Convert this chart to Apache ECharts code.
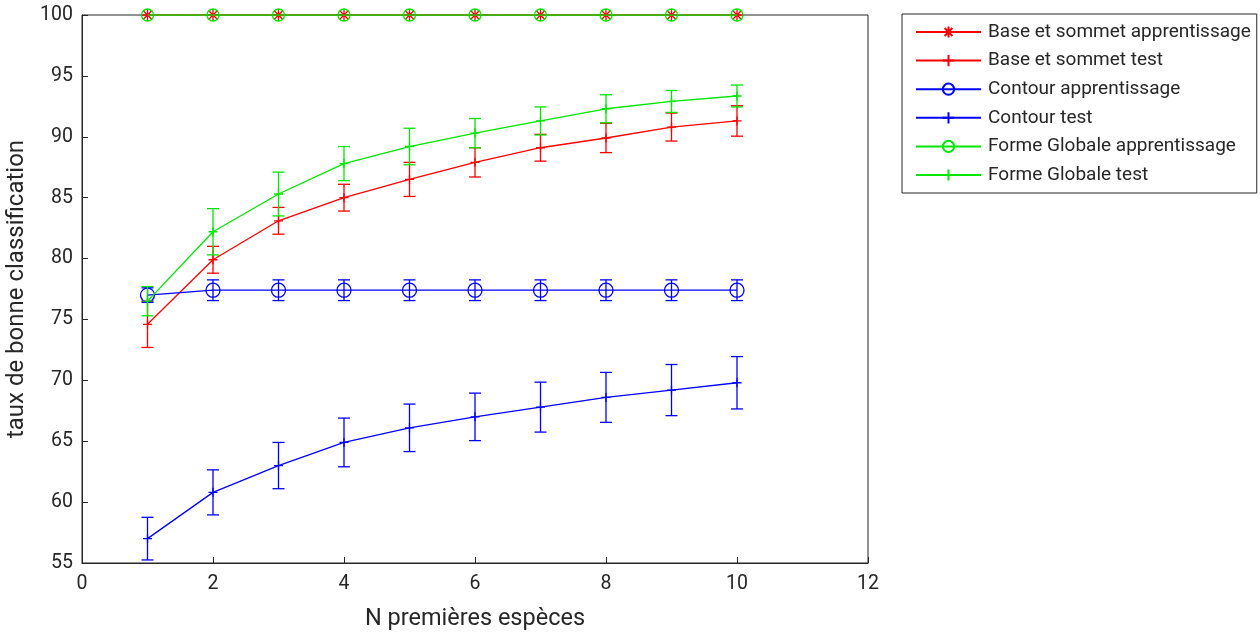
<!DOCTYPE html>
<html>
<head>
<meta charset="utf-8">
<script src="https://cdn.jsdelivr.net/npm/echarts@6/dist/echarts.min.js"></script>
<style>html,body{margin:0;padding:0;background:#fff;}#c{width:1260px;height:637px;}</style>
</head>
<body>
<div id="c"></div>
<script>
// ---- data ----
const xValues = [1, 2, 3, 4, 5, 6, 7, 8, 9, 10];
const xTicks = [0, 2, 4, 6, 8, 10, 12];
const yTicks = [55, 60, 65, 70, 75, 80, 85, 90, 95, 100];

const seriesNames = [
  'Base et sommet apprentissage',
  'Base et sommet test',
  'Contour apprentissage',
  'Contour test',
  'Forme Globale apprentissage',
  'Forme Globale test'
];

const baseApp = [100, 100, 100, 100, 100, 100, 100, 100, 100, 100];
const baseAppErr = [0, 0, 0, 0, 0, 0, 0, 0, 0, 0];
const baseTest = [74.6, 79.9, 83.1, 85.0, 86.5, 87.9, 89.1, 89.9, 90.8, 91.3];
const baseTestErr = [1.9, 1.1, 1.1, 1.1, 1.4, 1.2, 1.1, 1.2, 1.15, 1.25];
const contApp = [77.0, 77.4, 77.4, 77.4, 77.4, 77.4, 77.4, 77.4, 77.4, 77.4];
const contAppErr = [0.6, 0.85, 0.85, 0.85, 0.85, 0.85, 0.85, 0.85, 0.85, 0.85];
const contTest = [57.0, 60.8, 63.0, 64.9, 66.1, 67.0, 67.8, 68.6, 69.2, 69.8];
const contTestErr = [1.75, 1.85, 1.9, 2.0, 1.95, 1.95, 2.05, 2.05, 2.1, 2.15];
const formApp = [100, 100, 100, 100, 100, 100, 100, 100, 100, 100];
const formAppErr = [0, 0, 0, 0, 0, 0, 0, 0, 0, 0];
const formTest = [76.5, 82.2, 85.3, 87.8, 89.2, 90.3, 91.3, 92.3, 92.9, 93.35];
const formTestErr = [1.2, 1.9, 1.8, 1.4, 1.5, 1.2, 1.15, 1.15, 0.9, 0.9];

// ---- styling ----
const RED = '#ff0000', BLUE = '#0000ff', GREEN = '#00e600';
const TXT = '#262626';
const LW = 1.3;
const PLUS = 'path://M0,5L10,5M5,0L5,10';
const STAR = 'path://M0,5L10,5M5,0L5,10M1.5,1.5L8.5,8.5M1.5,8.5L8.5,1.5';

function pairs(vals) { return xValues.map((x, i) => [x, vals[i]]); }
function errData(vals, errs) { return xValues.map((x, i) => [x, vals[i] - errs[i], vals[i] + errs[i]]); }

function errSeries(vals, errs, color, z) {
  return {
    type: 'custom',
    z: z,
    silent: true,
    data: errData(vals, errs),
    encode: { x: 0, y: [1, 2] },
    renderItem: function (params, api) {
      const x = api.value(0), lo = api.value(1), hi = api.value(2);
      if (hi - lo <= 0) return null;
      const pH = api.coord([x, hi]);
      const pL = api.coord([x, lo]);
      const hw = 6;
      const st = { stroke: color, lineWidth: LW, fill: null };
      return {
        type: 'group',
        children: [
          { type: 'line', shape: { x1: pH[0], y1: pH[1], x2: pL[0], y2: pL[1] }, style: st },
          { type: 'line', shape: { x1: pH[0] - hw, y1: pH[1], x2: pH[0] + hw, y2: pH[1] }, style: st },
          { type: 'line', shape: { x1: pL[0] - hw, y1: pL[1], x2: pL[0] + hw, y2: pL[1] }, style: st }
        ]
      };
    }
  };
}

function lineSeries(name, vals, color, symbol, size, z) {
  return {
    name: name,
    type: 'line',
    z: z,
    data: pairs(vals),
    symbol: symbol,
    symbolSize: size,
    showAllSymbol: true,
    animation: false,
    lineStyle: { color: color, width: LW },
    itemStyle: { color: 'rgba(0,0,0,0)', borderColor: color, borderWidth: LW },
    emphasis: { disabled: true }
  };
}

const chart = echarts.init(document.getElementById('c'), null, { renderer: 'canvas' });
chart.setOption({
  animation: false,
  backgroundColor: '#ffffff',
  grid: {
    left: 82, right: 392, top: 15, bottom: 74,
    containLabel: false, outerBoundsMode: 'none',
    show: true, borderColor: TXT, borderWidth: 1, backgroundColor: 'transparent'
  },
  xAxis: {
    type: 'value', min: xTicks[0], max: xTicks[xTicks.length - 1], interval: 2,
    name: 'N premières espèces', nameLocation: 'middle', nameGap: 44,
    nameTextStyle: { color: TXT, fontSize: 23.5, fontFamily: 'Roboto' },
    axisLine: { show: true, lineStyle: { color: TXT, width: 1 } },
    axisTick: { show: true, inside: true, length: 6, lineStyle: { color: TXT } },
    axisLabel: { color: TXT, fontSize: 19.5, fontFamily: 'Roboto', margin: 11 },
    splitLine: { show: false }
  },
  yAxis: {
    type: 'value', min: yTicks[0], max: yTicks[yTicks.length - 1], interval: 5,
    name: 'taux de bonne classification', nameLocation: 'middle', nameGap: 48,
    nameTextStyle: { color: TXT, fontSize: 24, fontFamily: 'Roboto' },
    axisLine: { show: true, lineStyle: { color: TXT, width: 1 } },
    axisTick: { show: true, inside: true, length: 6, lineStyle: { color: TXT } },
    axisLabel: { color: TXT, fontSize: 19.5, fontFamily: 'Roboto', margin: 9 },
    splitLine: { show: false }
  },
  legend: {
    data: seriesNames,
    orient: 'vertical',
    left: 902, top: 14,
    padding: [7, 6, 7, 13],
    itemGap: 6.6,
    itemWidth: 65, itemHeight: 14,
    borderColor: TXT, borderWidth: 1,
    backgroundColor: '#fff',
    selectedMode: false,
    textStyle: { color: TXT, fontSize: 19, fontFamily: 'Roboto', lineHeight: 22, padding: [0, 0, 0, 2] }
  },
  series: [
    errSeries(baseApp, baseAppErr, RED, 2),
    lineSeries(seriesNames[0], baseApp, RED, STAR, 12, 3),
    errSeries(baseTest, baseTestErr, RED, 4),
    lineSeries(seriesNames[1], baseTest, RED, PLUS, 9, 5),
    errSeries(contApp, contAppErr, BLUE, 6),
    lineSeries(seriesNames[2], contApp, BLUE, 'circle', 14, 7),
    errSeries(contTest, contTestErr, BLUE, 8),
    lineSeries(seriesNames[3], contTest, BLUE, PLUS, 9, 9),
    errSeries(formApp, formAppErr, GREEN, 10),
    lineSeries(seriesNames[4], formApp, GREEN, 'circle', 12, 11),
    errSeries(formTest, formTestErr, GREEN, 12),
    lineSeries(seriesNames[5], formTest, GREEN, PLUS, 9, 13)
  ]
});
</script>
</body>
</html>
